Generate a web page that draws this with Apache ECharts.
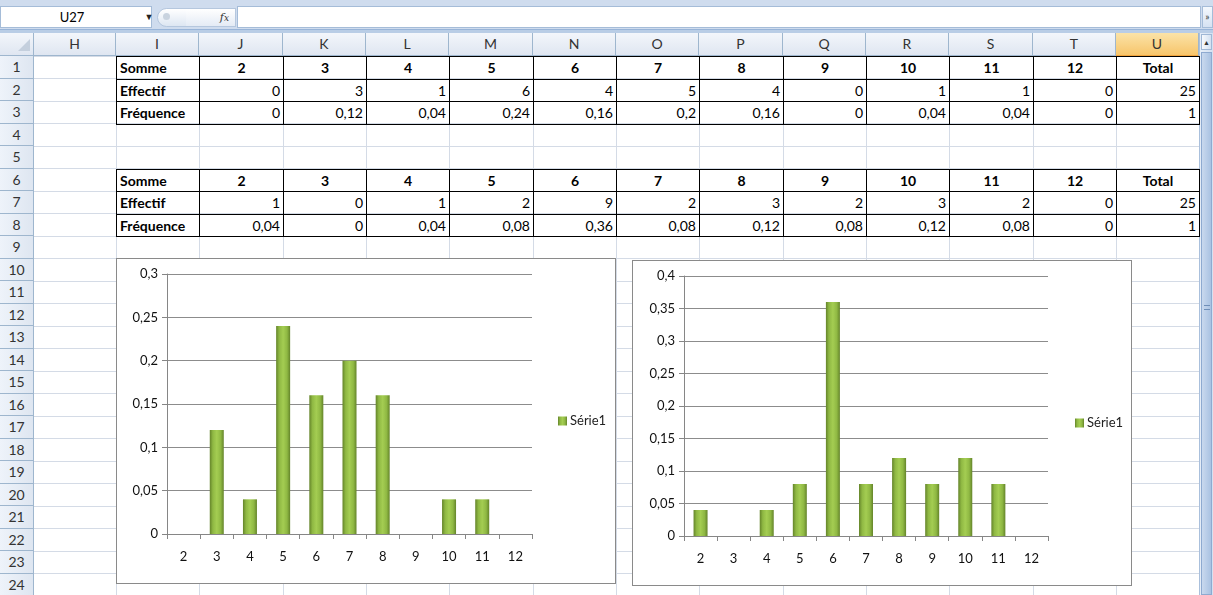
<!DOCTYPE html>
<html>
<head>
<meta charset="utf-8">
<script src="https://cdn.jsdelivr.net/npm/echarts@6/dist/echarts.min.js"></script>
<style>
  html,body{margin:0;padding:0;width:1213px;height:595px;overflow:hidden;background:#fff;font-family:Lato,"Noto Sans",sans-serif;}
  .abs{position:absolute;box-sizing:border-box;}
  .cell{position:absolute;box-sizing:border-box;font-size:14px;line-height:22px;white-space:nowrap;padding:0 3px;color:#000;}
  .hdr{position:absolute;box-sizing:border-box;font-size:14px;color:#333;text-align:center;background:linear-gradient(#f3f6fb,#dfe6f1);border-right:1px solid #9eb6ce;border-bottom:1px solid #9eb6ce;}
  .chart{position:absolute;box-sizing:border-box;border:1px solid #8a8a8a;background:#fff;}
</style>
</head>
<body>
<div id="sheet"></div>
<div id="c1" class="chart" style="left:116px;top:258px;width:500px;height:326px;"></div>
<div id="c2" class="chart" style="left:632px;top:260px;width:500px;height:326px;"></div>
<script>
// ---------- data ----------
const sums = [2, 3, 4, 5, 6, 7, 8, 9, 10, 11, 12];
const effectif1 = [0, 3, 1, 6, 4, 5, 4, 0, 1, 1, 0];
const frequence1 = [0, 0.12, 0.04, 0.24, 0.16, 0.2, 0.16, 0, 0.04, 0.04, 0];
const total1 = [25, 1];
const effectif2 = [1, 0, 1, 2, 9, 2, 3, 2, 3, 2, 0];
const frequence2 = [0.04, 0, 0.04, 0.08, 0.36, 0.08, 0.12, 0.08, 0.12, 0.08, 0];
const total2 = [25, 1];
const colLetters = ['H','I','J','K','L','M','N','O','P','Q','R','S','T','U'];
const rowLabels = ['Somme', 'Effectif', 'Fréquence'];
const seriesName = 'Série1';
const yTicks1 = [0, 0.3, 0.05];
const yTicks2 = [0, 0.4, 0.05];

// ---------- spreadsheet ----------
const sheet = document.getElementById('sheet');
function add(cls, style, html){
  const d = document.createElement('div');
  d.className = cls; d.setAttribute('style', style); if (html !== undefined) d.innerHTML = html;
  sheet.appendChild(d); return d;
}
const fmt = v => String(+v.toFixed(2)).replace('.', ',');
const colX = [34, 116];
for (let k = 1; k <= 13; k++) colX.push(Math.round(116 + k * 83.33));
const rowTop = n => 56 + (n - 1) * 22.5;
const headerTop = 33, headerBot = 56;

// formula bar
add('abs', 'left:0;top:0;width:1213px;height:33px;background:#cfdcee;');
add('abs', 'left:0;top:6px;width:152px;height:22px;background:#fff;border:1px solid #a5bcd8;font-size:13px;line-height:20px;text-align:center;padding-right:8px;', 'U27');
add('abs', 'left:143px;top:10px;width:12px;height:14px;font-size:9px;line-height:14px;text-align:center;color:#222;', '&#9660;');
add('abs', 'left:157px;top:8px;width:30px;height:19px;border-radius:10px 0 0 10px;background:linear-gradient(#ffffff,#dde6f2);border:1px solid #b5c7de;');
add('abs', 'left:163px;top:13px;width:7px;height:7px;border-radius:50%;background:#c9d3df;');
add('abs', 'left:186px;top:8px;width:50px;height:19px;background:linear-gradient(#ffffff,#e4ebf5);border:1px solid #b5c7de;border-left:none;font-family:"DejaVu Serif",serif;font-style:italic;font-size:11px;line-height:18px;text-align:right;padding-right:6px;color:#333;', 'f<span style="font-size:9px">x</span>');
add('abs', 'left:237px;top:6px;width:964px;height:22px;background:#fff;border:1px solid #a5bcd8;');
add('abs', 'left:1202px;top:6px;width:11px;height:22px;background:linear-gradient(#f4f8fd,#d6e2f2);border:1px solid #a5bcd8;font-size:10px;line-height:18px;text-align:center;color:#333;', '&#187;');
add('abs', 'left:0;top:29px;width:1213px;height:4px;background:#b9cde6;border-top:1px solid #98b4d8;');

// grid lines
for (let n = 1; n <= 25; n++) {
  add('abs', `left:34px;top:${rowTop(n) - 0.5}px;width:1165px;height:1px;background:#d4dbe6;`);
}
for (let k = 1; k < colX.length; k++) {
  add('abs', `left:${colX[k] - 0.5}px;top:${headerBot}px;width:1px;height:540px;background:#d4dbe6;`);
}
// column headers
add('hdr', `left:0;top:${headerTop}px;width:34px;height:${headerBot - headerTop}px;`);
add('abs', `left:18px;top:${headerTop + 6}px;width:0;height:0;border-left:12px solid transparent;border-bottom:12px solid #c4cfdd;`);
for (let k = 0; k < colLetters.length; k++) {
  const sel = colLetters[k] === 'U';
  add('hdr', `left:${colX[k]}px;top:${headerTop}px;width:${colX[k + 1] - colX[k]}px;height:${headerBot - headerTop}px;line-height:22px;${sel ? 'background:linear-gradient(#fbe3a8,#f7c56b);border-bottom:1px solid #f2a43c;' : ''}`, colLetters[k]);
}
// row headers
for (let n = 1; n <= 24; n++) {
  add('hdr', `left:0;top:${rowTop(n)}px;width:34px;height:22.5px;line-height:22px;background:linear-gradient(90deg,#eef3fa,#dee6f1);`, String(n));
}
// scrollbar
add('abs', `left:1199px;top:33px;width:14px;height:562px;background:linear-gradient(90deg,#e6eef8,#d3e0f0);border-left:1px solid #aac0dc;`);
add('abs', `left:1201px;top:34px;width:11px;height:16px;background:linear-gradient(90deg,#f6f9fd,#d3e0f0);border:1px solid #9fb7d5;font-size:7px;line-height:14px;text-align:center;color:#333;`, '&#9650;');
add('abs', `left:1201px;top:52px;width:11px;height:543px;background:linear-gradient(90deg,#c9d9ee,#a9c2e2);border:1px solid #8eaad0;`);
add('abs', `left:1204px;top:305px;width:6px;height:5px;border-top:1px solid #6f8fb8;border-bottom:1px solid #6f8fb8;`);

// tables
function table(startRow, eff, freq, tot) {
  const rows = [
    sums.map(String).concat(['Total']),
    eff.map(String).concat([String(tot[0])]),
    freq.map(fmt).concat([String(tot[1])])
  ];
  for (let r = 0; r < 3; r++) {
    const top = rowTop(startRow + r);
    add('cell', `left:${colX[1]}px;top:${top}px;width:${colX[2] - colX[1] + 1}px;height:23.5px;border:1px solid #000;font-weight:bold;text-align:left;`, rowLabels[r]);
    for (let c = 0; c < 12; c++) {
      const x0 = colX[c + 2], x1 = colX[c + 3];
      const align = r === 0 ? 'center' : 'right';
      add('cell', `left:${x0}px;top:${top}px;width:${x1 - x0 + 1}px;height:23.5px;border:1px solid #000;text-align:${align};${r === 0 ? 'font-weight:bold;' : ''}`, rows[r][c]);
    }
  }
}
table(1, effectif1, frequence1, total1);
table(6, effectif2, frequence2, total2);

// ---------- charts ----------
const barColor = {
  type: 'linear', x: 0, y: 0, x2: 1, y2: 0,
  colorStops: [
    {offset: 0, color: '#64842a'},
    {offset: 0.22, color: '#8fb843'},
    {offset: 0.5, color: '#a4cd52'},
    {offset: 0.78, color: '#8fb843'},
    {offset: 1, color: '#64842a'}
  ]
};
function makeOption(freq, yt, grid) {
  return {
    animation: false,
    textStyle: {fontFamily: 'Lato, "Noto Sans", sans-serif'},
    grid: grid,
    legend: {
      orient: 'vertical', left: grid.legendLeft, top: 'middle',
      itemWidth: 9, itemHeight: 9, itemGap: 6,
      icon: 'rect',
      textStyle: {fontSize: 13, color: '#222', padding: [0, 0, 0, -2]},
      data: [seriesName]
    },
    xAxis: {
      type: 'category', data: sums.map(String),
      axisLine: {lineStyle: {color: '#868686'}},
      axisTick: {show: true, length: 5, lineStyle: {color: '#868686'}},
      axisLabel: {color: '#111', fontSize: 13, margin: 16}
    },
    yAxis: {
      type: 'value', min: yt[0], max: yt[1], interval: yt[2],
      axisLine: {show: true, lineStyle: {color: '#868686'}},
      axisTick: {show: true, length: 5, lineStyle: {color: '#868686'}},
      splitLine: {lineStyle: {color: '#8c8c8c'}},
      axisLabel: {color: '#111', fontSize: 13, margin: 9, formatter: v => fmt(v)}
    },
    series: [{
      name: seriesName, type: 'bar', data: freq, barWidth: 14,
      itemStyle: {color: barColor, borderWidth: 0}
    }]
  };
}
const ch1 = echarts.init(document.getElementById('c1'), null, {renderer: 'canvas'});
ch1.setOption(makeOption(frequence1, yTicks1, {left: 50, top: 15, right: 83, bottom: 49, legendLeft: 436}));
const ch2 = echarts.init(document.getElementById('c2'), null, {renderer: 'canvas'});
ch2.setOption(makeOption(frequence2, yTicks2, {left: 51, top: 15, right: 83, bottom: 49, legendLeft: 437}));
</script>
</body>
</html>
